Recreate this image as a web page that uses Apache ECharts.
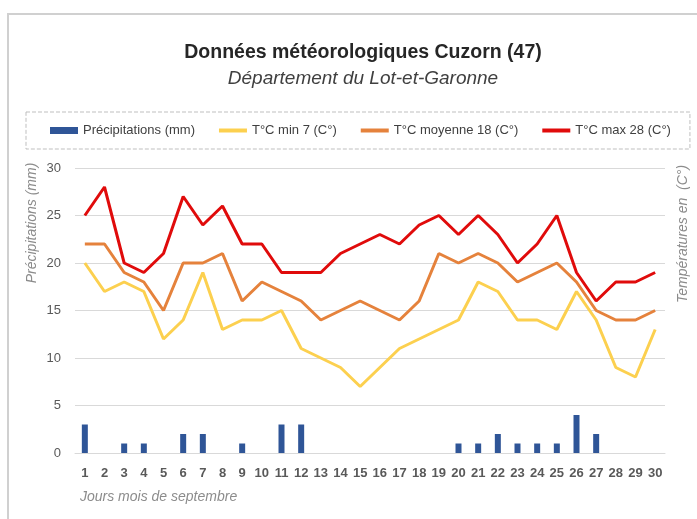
<!DOCTYPE html>
<html>
<head>
<meta charset="utf-8">
<script src="https://cdn.jsdelivr.net/npm/echarts@6/dist/echarts.min.js"></script>
<style>
  html, body { margin: 0; padding: 0; background: #fff; }
  #chart { width: 697px; height: 519px; }
</style>
</head>
<body>
<div id="chart"></div>
<script>
// jours du mois de septembre
const days = Array.from({ length: 30 }, (_, i) => String(i + 1))
const precipitations = [3, 0, 1, 1, 0, 2, 2, 0, 1, 0, 3, 3, 0, 0, 0, 0, 0, 0, 0, 1, 1, 2, 1, 1, 1, 4, 2, 0, 0, 0]
const tMin = [20, 17, 18, 17, 12, 14, 19, 13, 14, 14, 15, 11, 10, 9, 7, 9, 11, 12, 13, 14, 18, 17, 14, 14, 13, 17, 14, 9, 8, 13]
const tMoy = [22, 22, 19, 18, 15, 20, 20, 21, 16, 18, 17, 16, 14, 15, 16, 15, 14, 16, 21, 20, 21, 20, 18, 19, 20, 18, 15, 14, 14, 15]
const tMax = [25, 28, 20, 19, 21, 27, 24, 26, 22, 22, 19, 19, 19, 21, 22, 23, 22, 24, 25, 23, 25, 23, 20, 22, 25, 19, 16, 18, 18, 19]

const FONT = '"Liberation Sans", Arial, sans-serif'
const lineIcon = 'path://M0,0H28V4H0Z'

const chart = echarts.init(document.getElementById('chart'))

const option = {
  animation: false,
  textStyle: { fontFamily: FONT },
  title: {
    text: 'Données météorologiques Cuzorn (47)',
    subtext: 'Département du Lot-et-Garonne',
    left: 358,
    textAlign: 'center',
    top: 38,
    itemGap: 6,
    textStyle: { fontSize: 19.5, fontWeight: 'bold', color: '#262626', fontFamily: FONT },
    subtextStyle: { fontSize: 19, fontStyle: 'italic', color: '#404040', fontFamily: FONT }
  },
  legend: {
    left: 26,
    top: 112,
    padding: [12, 19, 12, 24],
    borderColor: '#bfbfbf',
    borderWidth: 1,
    borderType: 'dashed',
    itemWidth: 28,
    itemHeight: 7,
    itemGap: 24,
    textStyle: { fontSize: 13, color: '#404040', fontFamily: FONT },
    data: [
      { name: 'Précipitations (mm)', icon: 'rect' },
      { name: 'T°C min 7 (C°)', icon: lineIcon },
      { name: 'T°C moyenne 18 (C°)', icon: lineIcon },
      { name: 'T°C max 28 (C°)', icon: lineIcon }
    ]
  },
  grid: { left: 75, right: 32, top: 168, bottom: 66 },
  xAxis: {
    type: 'category',
    data: days,
    boundaryGap: true,
    axisLine: { lineStyle: { color: '#d9d9d9' } },
    axisTick: { show: false },
    axisLabel: { color: '#595959', fontSize: 13, fontWeight: 'bold', margin: 14, interval: 0 }
  },
  yAxis: [
    {
      type: 'value',
      min: 0,
      max: 30,
      interval: 5,
      axisLine: { show: false },
      axisTick: { show: false },
      axisLabel: { color: '#595959', fontSize: 13, margin: 14 },
      splitLine: { lineStyle: { color: '#d9d9d9' } }
    },
    {
      type: 'value',
      min: 0,
      max: 30,
      interval: 5,
      position: 'right',
      axisLine: { show: false },
      axisTick: { show: false },
      axisLabel: { show: false },
      splitLine: { show: false }
    }
  ],
  graphic: [
    {
      type: 'rect',
      silent: true,
      shape: { x: 8, y: 14, width: 720, height: 540 },
      style: { fill: 'none', stroke: '#d0d0d0', lineWidth: 2 }
    },
    {
      type: 'text',
      x: 32, y: 223, rotation: Math.PI / 2,
      style: { text: 'Précipitations (mm)', fontSize: 14, fontStyle: 'italic', fill: '#8c8c8c', fontFamily: FONT, align: 'center', verticalAlign: 'middle' }
    },
    {
      type: 'text',
      x: 683, y: 234, rotation: Math.PI / 2,
      style: { text: 'Températures en  (C°)', fontSize: 14, fontStyle: 'italic', fill: '#8c8c8c', fontFamily: FONT, align: 'center', verticalAlign: 'middle' }
    },
    {
      type: 'text',
      x: 80, y: 497,
      style: { text: 'Jours mois de septembre', fontSize: 14, fontStyle: 'italic', fill: '#8c8c8c', fontFamily: FONT, align: 'left', verticalAlign: 'middle' }
    }
  ],
  series: [
    {
      name: 'Précipitations (mm)',
      type: 'bar',
      data: precipitations,
      barWidth: 6,
      itemStyle: { color: '#2f5597' }
    },
    {
      name: 'T°C min 7 (C°)',
      type: 'line',
      yAxisIndex: 1,
      data: tMin,
      symbol: 'none',
      lineStyle: { width: 3, color: '#fcd04f' },
      itemStyle: { color: '#fcd04f' }
    },
    {
      name: 'T°C moyenne 18 (C°)',
      type: 'line',
      yAxisIndex: 1,
      data: tMoy,
      symbol: 'none',
      lineStyle: { width: 3, color: '#e5823c' },
      itemStyle: { color: '#e5823c' }
    },
    {
      name: 'T°C max 28 (C°)',
      type: 'line',
      yAxisIndex: 1,
      data: tMax,
      symbol: 'none',
      lineStyle: { width: 3, color: '#e00b0b' },
      itemStyle: { color: '#e00b0b' }
    }
  ]
}

chart.setOption(option)
</script>
</body>
</html>
